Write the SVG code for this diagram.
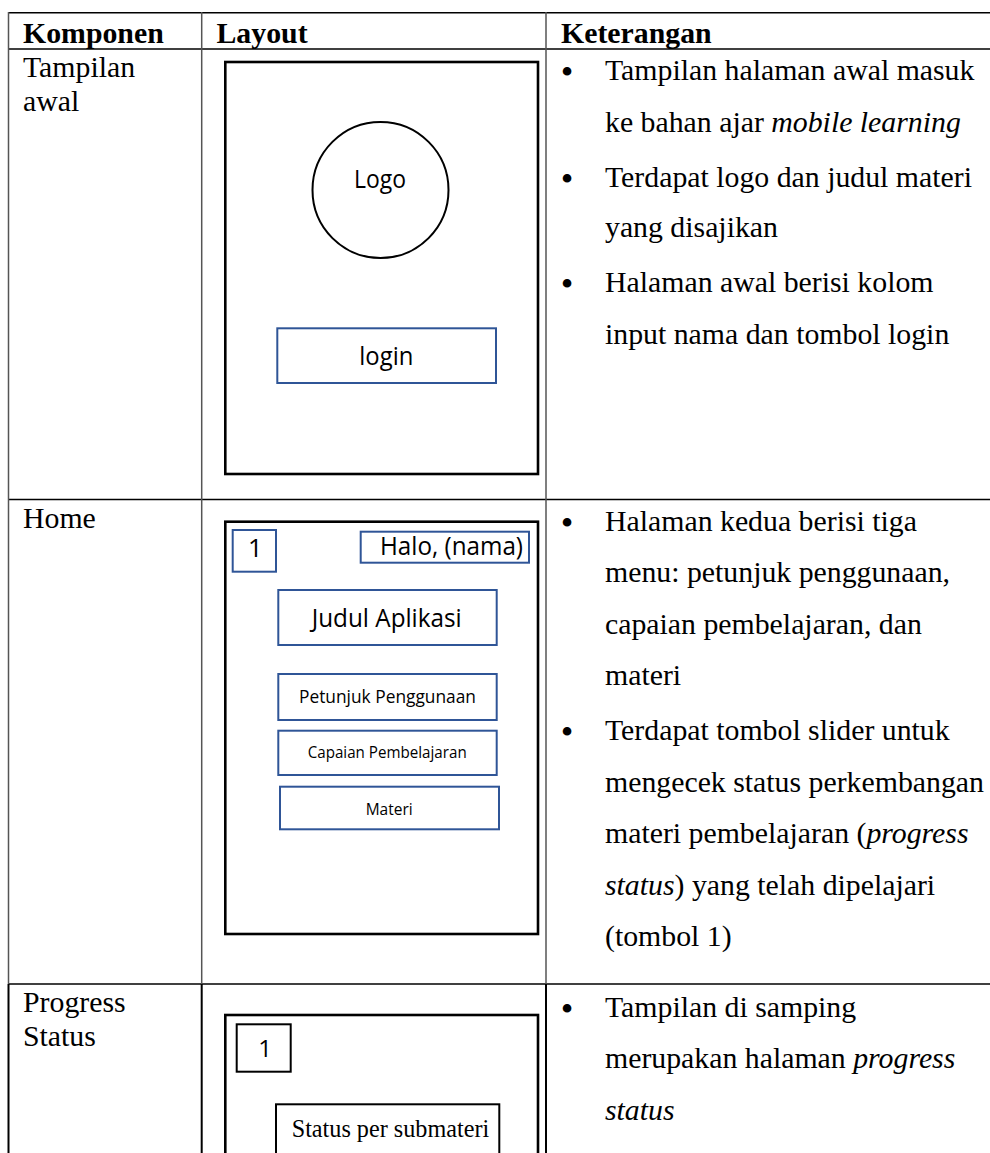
<svg xmlns="http://www.w3.org/2000/svg" width="990" height="1153" viewBox="0 0 990 1153">
  <style>
    .serif { font-family: "Liberation Serif", "Times New Roman", serif; font-size: 29.8px; fill: #000; }
    .bold { font-weight: bold; }
    .ital { font-style: italic; }
    .bullet { font-family: "Liberation Serif", "Times New Roman", serif; font-size: 36px; fill: #000; text-anchor: middle; }
    .sans { font-family: "Open Sans", "Noto Sans", sans-serif; fill: #000; }
    .hline { stroke: #000; stroke-width: 1.5; }
    .vgray { stroke: #555; stroke-width: 1.5; }
    .vdark { stroke: #000; stroke-width: 2; }
    .phone { fill: #fff; stroke: #000; stroke-width: 2.6; }
    .btn { fill: #fff; stroke: #2f5597; stroke-width: 2; }
    .btnk { fill: #fff; stroke: #000; stroke-width: 2; }
  </style>

  <rect width="990" height="1153" fill="#fff"/>

  <!-- table rules -->
  <g id="grid">
    <line class="hline" x1="8" y1="12.7" x2="990" y2="12.7"/>
    <line class="hline" x1="8" y1="49" x2="990" y2="49" stroke-width="2.2"/>
    <line class="hline" x1="8" y1="499.5" x2="990" y2="499.5"/>
    <line class="hline" x1="8" y1="984" x2="990" y2="984"/>
    <line class="vgray" x1="8.5" y1="12" x2="8.5" y2="984"/>
    <line class="vgray" x1="201.7" y1="12" x2="201.7" y2="984"/>
    <line class="vgray" x1="546" y1="12" x2="546" y2="984"/>
    <line class="vdark" x1="8.5" y1="984" x2="8.5" y2="1153"/>
    <line class="vdark" x1="201.7" y1="984" x2="201.7" y2="1153"/>
    <line class="vdark" x1="546" y1="984" x2="546" y2="1153"/>
  </g>

  <!-- header row -->
  <g id="header">
    <text class="serif bold" x="23" y="42.5">Komponen</text>
    <text class="serif bold" x="216.5" y="42.5">Layout</text>
    <text class="serif bold" x="561" y="42.5">Keterangan</text>
  </g>

  <!-- row 1: start screen -->
  <g id="row-tampilan-awal">
    <text class="serif" x="23" y="77.3">Tampilan</text>
    <text class="serif" x="23" y="111.3">awal</text>
  </g>
  <g id="layout-awal">
    <rect class="phone" x="225.3" y="62" width="312.7" height="412"/>
    <g id="logo">
      <circle cx="380.5" cy="190" r="68" fill="#fff" stroke="#000" stroke-width="2"/>
      <text class="sans" x="354" y="188.3" font-size="25.5" textLength="52" lengthAdjust="spacingAndGlyphs">Logo</text>
    </g>
    <g id="btn-login">
      <rect class="btn" x="277.3" y="328.3" width="218.7" height="54.7"/>
      <text class="sans" x="359.3" y="365" font-size="25.5" textLength="54" lengthAdjust="spacingAndGlyphs">login</text>
    </g>
  </g>
  <g id="desc-awal">
    <text class="bullet" x="567" y="84">•</text>
    <text class="serif" x="605" y="80">Tampilan halaman awal masuk</text>
    <text class="serif" x="605" y="131.5">ke bahan ajar <tspan class="ital">mobile learning</tspan></text>
    <text class="bullet" x="567" y="190.5">•</text>
    <text class="serif" x="605" y="186.5">Terdapat logo dan judul materi</text>
    <text class="serif" x="605" y="237">yang disajikan</text>
    <text class="bullet" x="567" y="296">•</text>
    <text class="serif" x="605" y="292">Halaman awal berisi kolom</text>
    <text class="serif" x="605" y="343.5">input nama dan tombol login</text>
  </g>

  <!-- row 2: home -->
  <g id="row-home">
    <text class="serif" x="23" y="527.5">Home</text>
  </g>
  <g id="layout-home">
    <rect class="phone" x="225.3" y="521.7" width="312.7" height="412.3"/>
    <g id="btn-slider">
      <rect class="btn" x="232.7" y="530" width="43.3" height="41.7"/>
      <text class="sans" x="255.3" y="557" font-size="25.5" text-anchor="middle">1</text>
    </g>
    <g id="greeting">
      <rect class="btn" x="360.7" y="531.7" width="168.3" height="31"/>
      <text class="sans" x="380" y="554.5" font-size="25" textLength="143" lengthAdjust="spacingAndGlyphs">Halo, (nama)</text>
    </g>
    <g id="app-title">
      <rect class="btn" x="278.3" y="590" width="218.4" height="55"/>
      <text class="sans" x="311.7" y="627" font-size="25.5" textLength="150" lengthAdjust="spacingAndGlyphs">Judul Aplikasi</text>
    </g>
    <g id="menu-petunjuk">
      <rect class="btn" x="278.3" y="674" width="218.4" height="46"/>
      <text class="sans" x="299" y="703.3" font-size="18.5" textLength="177" lengthAdjust="spacingAndGlyphs">Petunjuk Penggunaan</text>
    </g>
    <g id="menu-capaian">
      <rect class="btn" x="278.3" y="730.7" width="218.4" height="44.3"/>
      <text class="sans" x="307.7" y="758.3" font-size="15.5" textLength="159" lengthAdjust="spacingAndGlyphs">Capaian Pembelajaran</text>
    </g>
    <g id="menu-materi">
      <rect class="btn" x="280" y="786.7" width="219" height="42.6"/>
      <text class="sans" x="365.7" y="815" font-size="15.5" textLength="47" lengthAdjust="spacingAndGlyphs">Materi</text>
    </g>
  </g>
  <g id="desc-home">
    <text class="bullet" x="567" y="534.7">•</text>
    <text class="serif" x="605" y="530.7">Halaman kedua berisi tiga</text>
    <text class="serif" x="605" y="582.2">menu: petunjuk penggunaan,</text>
    <text class="serif" x="605" y="633.7">capaian pembelajaran, dan</text>
    <text class="serif" x="605" y="685.2">materi</text>
    <text class="bullet" x="567" y="744">•</text>
    <text class="serif" x="605" y="740">Terdapat tombol slider untuk</text>
    <text class="serif" x="605" y="791.5">mengecek status perkembangan</text>
    <text class="serif" x="605" y="843">materi pembelajaran (<tspan class="ital">progress</tspan></text>
    <text class="serif" x="605" y="894.5"><tspan class="ital">status</tspan>) yang telah dipelajari</text>
    <text class="serif" x="605" y="946">(tombol 1)</text>
  </g>

  <!-- row 3: progress status -->
  <g id="row-progress">
    <text class="serif" x="23" y="1011.5">Progress</text>
    <text class="serif" x="23" y="1045.5">Status</text>
  </g>
  <g id="layout-progress">
    <rect class="phone" x="225.3" y="1015" width="312.7" height="160"/>
    <g id="btn-back">
      <rect class="btnk" x="236.7" y="1024.3" width="54" height="47.4"/>
      <text class="sans" x="265" y="1056.5" font-size="24" text-anchor="middle">1</text>
    </g>
    <g id="status-box">
      <rect class="btnk" x="276" y="1104.3" width="223.3" height="70"/>
      <text class="serif" x="291.7" y="1137.3" style="font-size:24.2px">Status per submateri</text>
    </g>
  </g>
  <g id="desc-progress">
    <text class="bullet" x="567" y="1020.5">•</text>
    <text class="serif" x="605" y="1016.5">Tampilan di samping</text>
    <text class="serif" x="605" y="1068">merupakan halaman <tspan class="ital">progress</tspan></text>
    <text class="serif" x="605" y="1119.5"><tspan class="ital">status</tspan></text>
  </g>
</svg>
